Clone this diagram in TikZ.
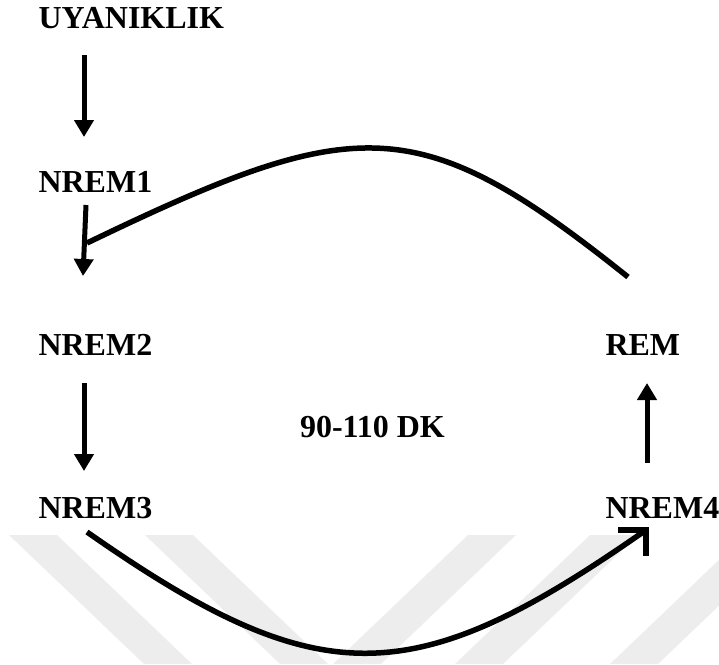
\documentclass[tikz,border=0pt]{standalone}
\usepackage{fontspec}
\setmainfont{Liberation Serif}
\usetikzlibrary{arrows.meta,calc}

\tikzset{
  stage/.style={anchor=base west, inner sep=0pt, outer sep=0pt,
    font=\fontsize{32}{36}\selectfont\bfseries},
  arr/.style={line width=5pt, -{Triangle[width=19pt,length=17pt]}},
  curve/.style={line width=5.5pt},
  band/.style={fill=black!7, draw=none},
}

\begin{document}
\begin{tikzpicture}[x=1pt, y=-1pt]
  \useasboundingbox (0,0) rectangle (719,664);

  % faint chevron bands in the background
  \begin{scope}
    \clip (0,0) rectangle (719,664);
    \fill[band] (9,535) -- (57,535) -- (192,664) -- (144,664) -- cycle;
    \fill[band] (145,535) -- (193,535) -- (328,664) -- (280,664) -- cycle;
    \fill[band] (468,535) -- (516,535) -- (381,664) -- (333,664) -- cycle;
    \fill[band] (590,535) -- (638,535) -- (503,664) -- (455,664) -- cycle;
    \fill[band] (745,535) -- (793,535) -- (658,664) -- (610,664) -- cycle;
  \end{scope}

  % stages
  \node[stage] (uyan) at (38.5,28)  {UYANIKLIK};
  \node[stage] (n1)   at (38.5,192) {NREM1};
  \node[stage] (n2)   at (38.5,355) {NREM2};
  \node[stage] (n3)   at (38.5,518) {NREM3};
  \node[stage] (rem)  at (605.5,355) {REM};
  \node[stage] (n4)   at (605.5,518) {NREM4};
  \node[stage] (dk)   at (300,437)  {90-110 DK};

  % straight transitions
  \draw[arr] ($(uyan.base west)+(45.5,27)$) -- ($(n1.base west)+(45.5,-55)$);
  \draw[arr] ($(n1.base west)+(47.5,13)$)   -- ($(n2.base west)+(44.5,-79)$);
  \draw[arr] ($(n2.base west)+(45.5,28)$)   -- ($(n3.base west)+(45.5,-47)$);
  \draw[arr] ($(n4.base west)+(41.5,-55)$)  -- ($(rem.base west)+(41.5,28)$);

  % REM back to the NREM1 -> NREM2 arrow
  \coordinate (arcS) at ($(rem.base west)+(22.5,-78)$);
  \coordinate (arcE) at ($(n1.base west)+(48.5,51)$);
  \draw[curve] (arcS) .. controls +(-210,-168) and +(270,-130) .. (arcE);

  % NREM3 down and round to NREM4
  \coordinate (lowS) at ($(n3.base west)+(48.5,14)$);
  \coordinate (lowE) at ($(n4.base west)+(40.5,12)$);
  \draw[curve] (lowS) .. controls +(233,163) and +(-233,163) .. (lowE);
  \draw[curve, miter limit=10] ($(lowE)+(-28,0)$) -- (lowE) -- ($(lowE)+(0,26)$);
\end{tikzpicture}
\end{document}
